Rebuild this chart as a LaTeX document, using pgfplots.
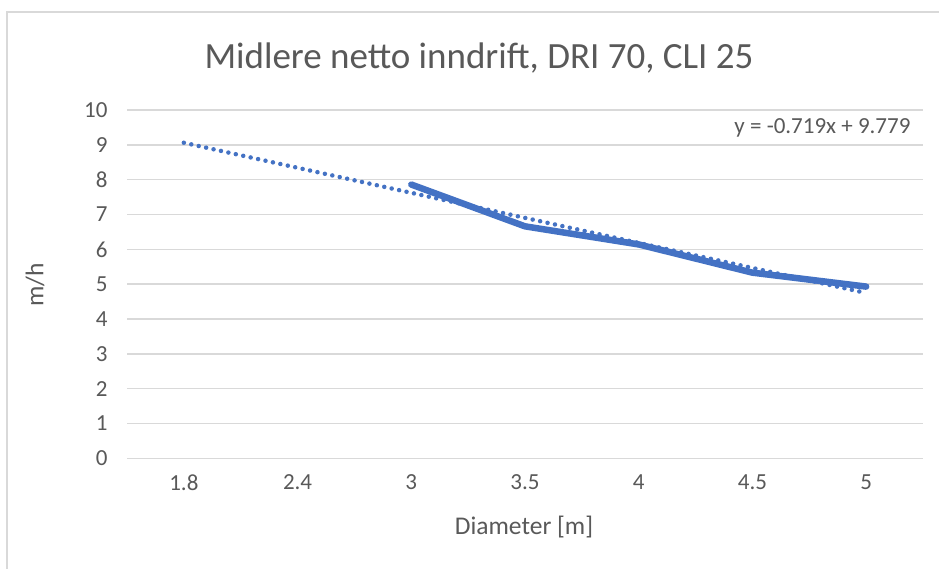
\documentclass[border=0pt]{standalone}
\usepackage{fontspec}
\setmainfont{Carlito}
\usepackage{pgfplots}
\pgfplotsset{compat=1.18}
\definecolor{txt}{HTML}{595959}
\definecolor{grd}{HTML}{D9D9D9}
\definecolor{ser}{HTML}{4472C4}
\begin{document}
\begin{tikzpicture}[x=1pt,y=1pt]
\useasboundingbox (0,0) rectangle (939,568);
\fill[white] (0,0) rectangle (939,568);
\draw[grd, line width=1.5pt] (7,-20) -- (7,556) -- (960,556);
\begin{axis}[
  at={(127pt,109.7pt)}, anchor=south west,
  scale only axis, width=796pt, height=348.3pt,
  xmin=0.5, xmax=7.5, ymin=0, ymax=10,
  xtick={1,...,7}, xticklabels={1.8,2.4,3,3.5,4,4.5,5},
  ytick={0,...,10},
  axis x line*=bottom, axis y line*=left,
  axis line style={draw=none},
  major tick length=0pt,
  ymajorgrids, grid style={grd, line width=1.5pt},
  tick label style={font=\fontsize{23}{27}\selectfont, text=txt},
  /pgf/number format/assume math mode=true,
  yticklabel style={xshift=-16pt},
  xticklabel style={yshift=-13pt},
  clip=false,
]
\addplot[ser, line width=6.5pt, line join=round, line cap=round]
  coordinates {(3,7.86)(4,6.66)(5,6.14)(6,5.33)(7,4.93)};
\addplot[ser, line width=4.5pt, line cap=round, dash pattern=on 0pt off 7.6pt]
  coordinates {(1,9.060)(7,4.746)};
\end{axis}
\node[text=txt, font=\fontsize{37}{42}\selectfont] at (479,510) {Midlere netto inndrift, DRI 70, CLI 25};
\node[text=txt, font=\fontsize{25.5}{30}\selectfont, rotate=90] at (35,283) {m/h};
\node[text=txt, font=\fontsize{25.5}{30}\selectfont] at (524,41) {Diameter [m]};
\node[text=txt, font=\fontsize{23}{27}\selectfont, anchor=east] at (914,440) {y = -0.719x + 9.779};
\end{tikzpicture}
\end{document}
